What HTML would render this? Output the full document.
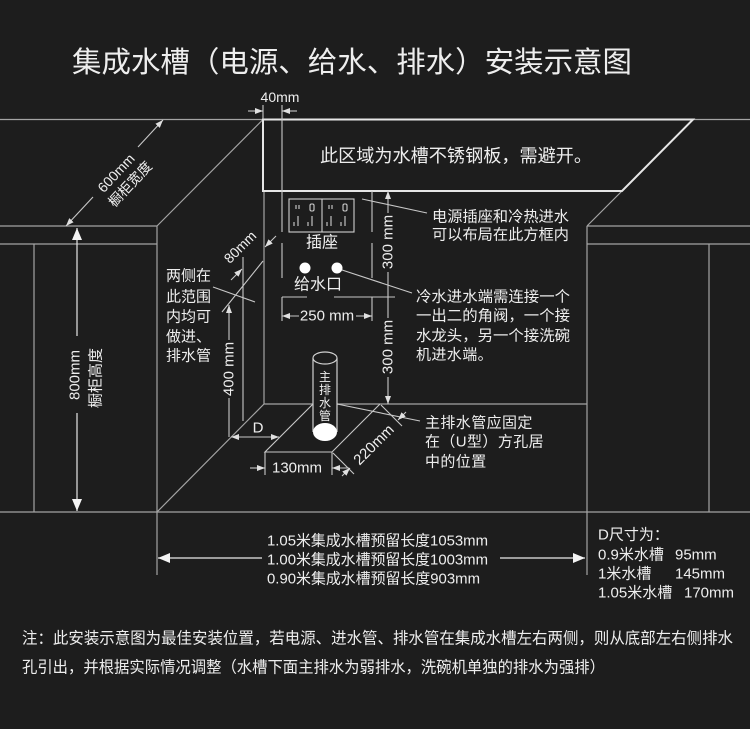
<!DOCTYPE html>
<html><head><meta charset="utf-8">
<style>
html,body{margin:0;padding:0;background:#1d1d1d;}
svg{display:block;}
text{font-family:"Liberation Sans","Noto Sans CJK SC",sans-serif;fill:#eeeeee;}
</style></head><body>
<svg width="750" height="729" viewBox="0 0 750 729" xmlns="http://www.w3.org/2000/svg">
<defs>
<marker id="ar" markerWidth="8" markerHeight="6" refX="8" refY="3" orient="auto" markerUnits="userSpaceOnUse"><path d="M0,0 L8,3 L0,6 z" fill="#e0e0e0"/></marker>
<marker id="big" markerWidth="12" markerHeight="10" refX="12" refY="5" orient="auto" markerUnits="userSpaceOnUse"><path d="M0,0 L12,5 L0,10 z" fill="#f4f4f4"/></marker>
</defs>
<rect width="750" height="729" fill="#1d1d1d"/>

<!-- title -->
<text x="72" y="63" font-size="29" dominant-baseline="central" textLength="560" lengthAdjust="spacingAndGlyphs">集成水槽（电源、给水、排水）安装示意图</text>

<!-- cabinet lines -->
<g stroke="#a4a4a4" stroke-width="1.2" fill="none">
<path d="M0,119.5H263 M693,119.5H750 M263,119.5L157,226 M0,226H157 M0,244H157 M157,226V512 M34,244V512 M587,226H750 M587,244H750 M587,226V512 M709,244V512 M0,512H750 M157,512V575 M587,512V575 M587,226L622,191"/>
<path d="M264,191V404 M264,404H313 M337,404H587 M264,404L157,512"/>
</g>

<!-- stainless area -->
<path d="M263,119.5H693L622,191H263Z" stroke="#e6e6e6" stroke-width="2" fill="none"/>
<text x="320" y="156" font-size="18" dominant-baseline="central" textLength="272" lengthAdjust="spacingAndGlyphs">此区域为水槽不锈钢板，需避开。</text>

<!-- dimension & helper lines -->
<g stroke="#c8c8c8" stroke-width="1.1" fill="none">
<!-- 40mm -->
<path d="M263,105V119 M282,105V232 M282,243V278 M372,191V232 M372,243V278 M282,297H307 M334,297H395 M282,297V321 M372,297V321"/>
<line x1="248" y1="111" x2="263" y2="111" marker-end="url(#ar)"/>
<line x1="297" y1="111" x2="282" y2="111" marker-end="url(#ar)"/>
<!-- 250 -->
<line x1="299" y1="316" x2="282" y2="316" marker-end="url(#ar)"/>
<line x1="356" y1="316" x2="372" y2="316" marker-end="url(#ar)"/>
<!-- 300 dims -->
<line x1="388" y1="213" x2="388" y2="191" marker-end="url(#ar)"/>
<path d="M388,272V318 M383,297H393"/>
<line x1="388" y1="377" x2="388" y2="404" marker-end="url(#ar)"/>
<!-- leaders -->
<path d="M362,199L427,213 M339,269L412,293 M337,404L420,421 M213,287L255,302"/>
<!-- side range -->
<path d="M243,257V421 M263,261L222,312"/>
<line x1="276" y1="236" x2="265" y2="247" marker-end="url(#ar)"/>
<line x1="231" y1="280" x2="242" y2="269" marker-end="url(#ar)"/>
<!-- 400 -->
<line x1="229" y1="340" x2="229" y2="305" marker-end="url(#ar)"/>
<path d="M229,398V437"/>
<!-- D -->
<line x1="255" y1="437" x2="231" y2="437" marker-end="url(#ar)"/>
<line x1="255" y1="437" x2="279" y2="437" marker-end="url(#ar)"/>
<!-- hole -->
<path d="M313,404L265,452H332L380,404"/>
<!-- 130 -->
<path d="M265,452V475 M332,452V475"/>
<line x1="250" y1="468" x2="265" y2="468" marker-end="url(#ar)"/>
<line x1="349" y1="468" x2="332" y2="468" marker-end="url(#ar)"/>
<!-- 220 -->
<path d="M381,405L402,426 M333,453L354,474"/>
<line x1="406" y1="412" x2="398" y2="420" marker-end="url(#ar)"/>
<line x1="342" y1="476" x2="350" y2="468" marker-end="url(#ar)"/>
<!-- 600 -->
<line x1="138" y1="147" x2="163" y2="120" marker-end="url(#ar)"/>
<line x1="93" y1="197" x2="66" y2="226" marker-end="url(#ar)"/>
</g>

<!-- 800mm -->
<g stroke="#e8e8e8" stroke-width="1.2">
<line x1="77" y1="336" x2="77" y2="228" marker-end="url(#big)"/>
<line x1="77" y1="413" x2="77" y2="511" marker-end="url(#big)"/>
<line x1="262" y1="558" x2="158" y2="558" marker-end="url(#big)"/>
<line x1="500" y1="558" x2="585" y2="558" marker-end="url(#big)"/>
</g>

<!-- socket -->
<g stroke="#cfcfcf" stroke-width="1.1" fill="none">
<rect x="289" y="199" width="65" height="33"/>
<path d="M322,199V232"/>
<path d="M296,205V209 M299,205V209 M329,205V209 M332,205V209"/>
<rect x="310" y="204" width="4" height="7" rx="1.5"/>
<rect x="343" y="204" width="4" height="7" rx="1.5"/>
<path d="M294,222V226 M298,216V226 M308,222V226 M312,216V226 M327,222V226 M331,216V226 M341,222V226 M345,216V226"/>
</g>
<text x="322" y="243" font-size="16" text-anchor="middle" dominant-baseline="central">插座</text>
<circle cx="305" cy="268" r="5.5" fill="#ffffff"/>
<circle cx="337" cy="268" r="5.5" fill="#ffffff"/>
<text x="318" y="285" font-size="16" text-anchor="middle" dominant-baseline="central">给水口</text>

<!-- pipe -->
<rect x="313" y="358" width="24" height="74" fill="#1d1d1d"/>
<path d="M313,358V432 M337,358V432" stroke="#d0d0d0" stroke-width="1.2" fill="none"/>
<ellipse cx="325" cy="358" rx="12" ry="6" stroke="#d0d0d0" stroke-width="1.2" fill="#1d1d1d"/>
<ellipse cx="325" cy="432" rx="12" ry="9" fill="#ffffff"/>
<g font-size="12" text-anchor="middle" dominant-baseline="central">
<text x="325" y="377">主</text><text x="325" y="390">排</text><text x="325" y="403">水</text><text x="325" y="416">管</text>
</g>

<!-- dimension labels -->
<text x="280" y="97" font-size="14" text-anchor="middle" dominant-baseline="central">40mm</text>
<text x="327" y="316" font-size="15" text-anchor="middle" dominant-baseline="central">250 mm</text>
<text transform="translate(388,242) rotate(-90)" font-size="15" text-anchor="middle" dominant-baseline="central">300 mm</text>
<text transform="translate(388,347) rotate(-90)" font-size="15" text-anchor="middle" dominant-baseline="central">300 mm</text>
<text transform="translate(229,369) rotate(-90)" font-size="15" text-anchor="middle" dominant-baseline="central">400 mm</text>
<text transform="translate(240,247) rotate(-45)" font-size="14" text-anchor="middle" dominant-baseline="central">80mm</text>
<text x="258" y="428" font-size="15" text-anchor="middle" dominant-baseline="central">D</text>
<text x="297" y="468" font-size="15" text-anchor="middle" dominant-baseline="central">130mm</text>
<text transform="translate(374,445) rotate(-45)" font-size="15" text-anchor="middle" dominant-baseline="central">220mm</text>
<text transform="translate(116,173) rotate(-47)" font-size="14" text-anchor="middle" dominant-baseline="central">600mm</text>
<text transform="translate(130,184) rotate(-47)" font-size="14" text-anchor="middle" dominant-baseline="central">橱柜宽度</text>
<text transform="translate(75,375) rotate(-90)" font-size="15" text-anchor="middle" dominant-baseline="central">800mm</text>
<text transform="translate(96,378) rotate(-90)" font-size="15" text-anchor="middle" dominant-baseline="central">橱柜高度</text>

<!-- side text -->
<g font-size="15" dominant-baseline="central">
<text x="166" y="276">两侧在</text>
<text x="166" y="297">此范围</text>
<text x="166" y="317">内均可</text>
<text x="166" y="337">做进、</text>
<text x="166" y="356">排水管</text>
</g>

<!-- right annotations -->
<g font-size="15" dominant-baseline="central">
<text x="432" y="217" textLength="137" lengthAdjust="spacingAndGlyphs">电源插座和冷热进水</text>
<text x="432" y="235" textLength="137" lengthAdjust="spacingAndGlyphs">可以布局在此方框内</text>
<text x="416" y="297" textLength="154" lengthAdjust="spacingAndGlyphs">冷水进水端需连接一个</text>
<text x="416" y="316" textLength="154" lengthAdjust="spacingAndGlyphs">一出二的角阀，一个接</text>
<text x="416" y="336" textLength="154" lengthAdjust="spacingAndGlyphs">水龙头，另一个接洗碗</text>
<text x="416" y="355" letter-spacing="0.4">机进水端。</text>
<text x="425" y="423" letter-spacing="0.4">主排水管应固定</text>
<text x="425" y="442" letter-spacing="0.4">在（U型）方孔居</text>
<text x="425" y="462" letter-spacing="0.4">中的位置</text>
</g>

<!-- bottom dimension texts -->
<g font-size="15" dominant-baseline="central">
<text x="267" y="541" textLength="221" lengthAdjust="spacingAndGlyphs">1.05米集成水槽预留长度1053mm</text>
<text x="267" y="560" textLength="221" lengthAdjust="spacingAndGlyphs">1.00米集成水槽预留长度1003mm</text>
<text x="267" y="579" textLength="213" lengthAdjust="spacingAndGlyphs">0.90米集成水槽预留长度903mm</text>
</g>
<g font-size="15" dominant-baseline="central">
<text x="598" y="535">D尺寸为：</text>
<text x="598" y="555">0.9米水槽</text><text x="675" y="555">95mm</text>
<text x="598" y="574">1米水槽</text><text x="675" y="574">145mm</text>
<text x="598" y="593">1.05米水槽</text><text x="684" y="593">170mm</text>
</g>

<!-- note -->
<g font-size="16" dominant-baseline="central">
<text x="22" y="639" textLength="711" lengthAdjust="spacingAndGlyphs">注：此安装示意图为最佳安装位置，若电源、进水管、排水管在集成水槽左右两侧，则从底部左右侧排水</text>
<text x="22" y="668" textLength="583" lengthAdjust="spacingAndGlyphs">孔引出，并根据实际情况调整（水槽下面主排水为弱排水，洗碗机单独的排水为强排）</text>
</g>
</svg>
</body></html>
